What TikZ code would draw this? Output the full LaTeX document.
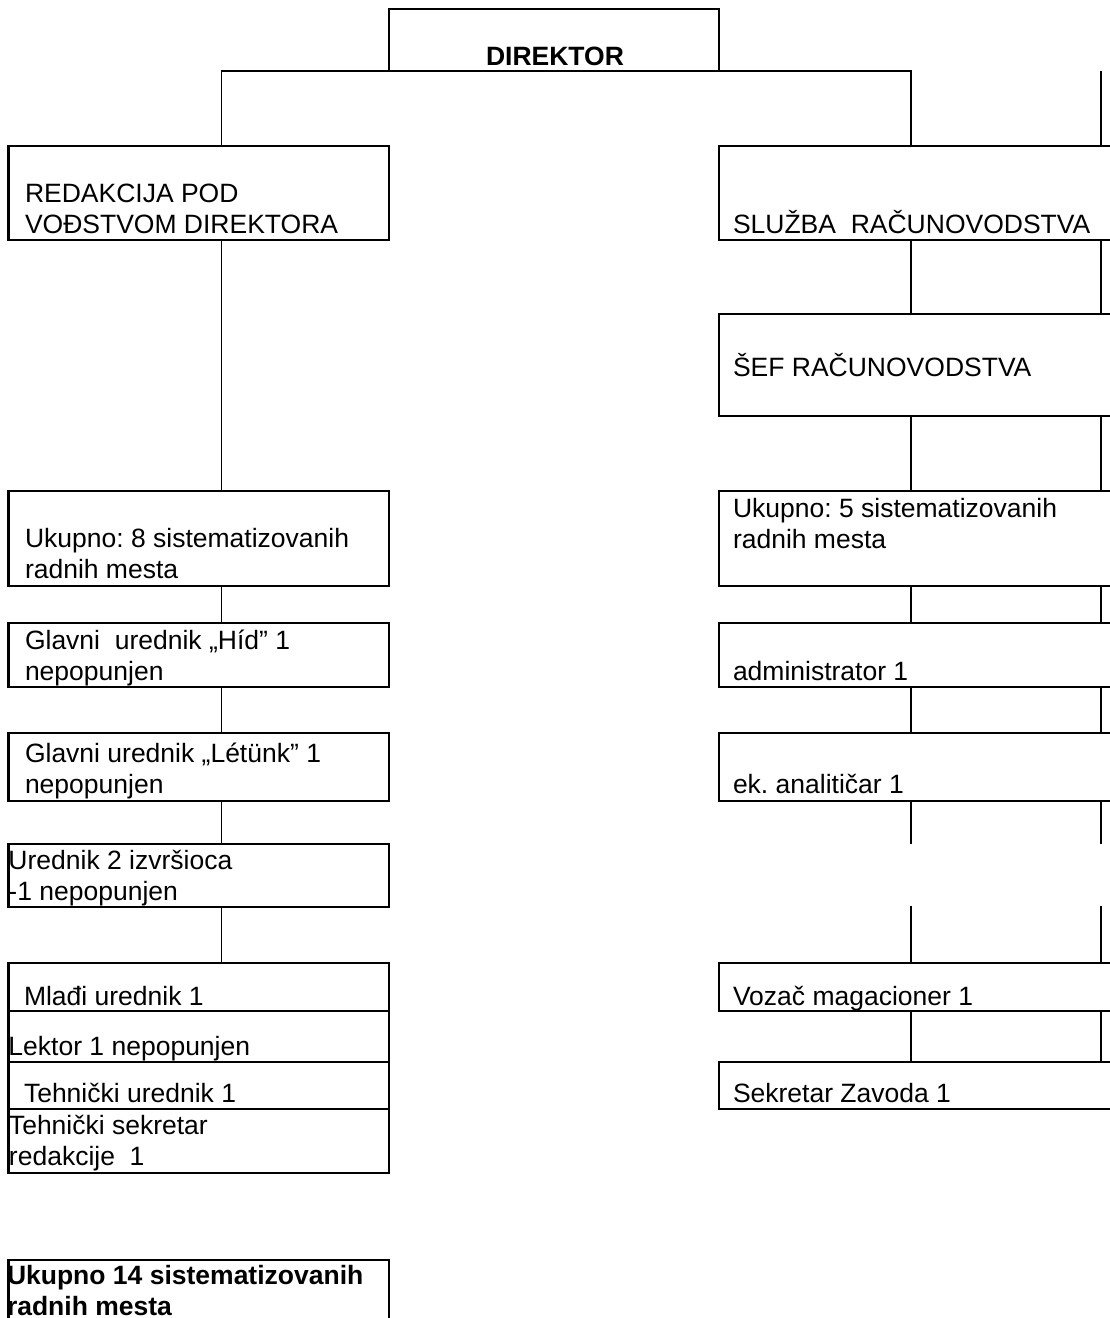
\documentclass[tikz,border=0pt]{standalone}
\usepackage{fontspec}
\setmainfont{Liberation Sans}
\frenchspacing
\tikzset{
  boxst/.style={draw, line width=2.2pt, inner sep=0pt, outer sep=0pt},
  conn/.style={draw, line width=1.5pt},
  txt/.style={inner sep=0pt, outer sep=0pt, anchor=base west, align=left,
    font=\fontsize{26.5}{30.5}\selectfont\frenchspacing},
  btxt/.style={txt, font=\fontsize{26.5}{30.5}\selectfont\bfseries\frenchspacing}
}
\newcommand\bx[5]{\node[boxst, minimum width={(#4-#2)*1pt}, minimum height={(#5-#3)*1pt}] (#1) at ({(#2+#4)/2},{(#3+#5)/2}) {};}
\begin{document}
\begin{tikzpicture}[x=1pt,y=-1pt]
\useasboundingbox (0,0) rectangle (1110,1318);
% connector columns
\coordinate (L) at (221.6,0);
\coordinate (R) at (911,0);
\coordinate (RR) at (1101,0);
\coordinate (gapTop) at (0,844);
\coordinate (gapBot) at (0,906);
% boxes
\bx{dir}{389}{9}{719}{71}
\bx{red}{8.5}{146}{389}{240}
\bx{u8}{8.5}{491}{389}{586}
\bx{hid}{8.5}{623}{389}{687}
\bx{let}{8.5}{733}{389}{801}
\bx{ured}{8.5}{844}{389}{907}
\bx{mladi}{8.5}{963}{389}{1011}
\bx{lektor}{8.5}{1011}{389}{1062}
\bx{teh}{8.5}{1062}{389}{1109}
\bx{tehsek}{8.5}{1109}{389}{1173}
\bx{uk14}{8.5}{1260}{389}{1335}
\bx{sluz}{719}{146}{1125}{240}
\bx{sef}{719}{314}{1125}{416}
\bx{u5}{719}{491}{1125}{586}
\bx{admin}{719}{623}{1125}{687}
\bx{ek}{719}{733}{1125}{801}
\bx{vozac}{719}{963}{1125}{1011}
\bx{sekr}{719}{1062}{1125}{1109}
% texts
\node[btxt, anchor=base] (tdir) at (555,65) {DIREKTOR};
\node[txt] (tred) at (25,233) {REDAKCIJA POD\\VOĐSTVOM DIREKTORA};
\node[txt] (tu8) at (25,578) {Ukupno: 8 sistematizovanih\\radnih mesta};
\node[txt] (thid) at (25,680) {Glavni\ \ urednik „Híd” 1\\nepopunjen};
\node[txt] (tlet) at (25,793) {Glavni urednik „Létünk” 1\\nepopunjen};
\node[txt] (tured) at (8.5,900) {Urednik 2 izvršioca\\-1 nepopunjen};
\node[txt] (tmladi) at (24,1005) {Mlađi urednik 1};
\node[txt] (tlektor) at (8.5,1055) {Lektor 1 nepopunjen};
\node[txt] (tteh) at (24,1102) {Tehnički urednik 1};
\node[txt] (ttehsek) at (9,1165) {Tehnički sekretar\\redakcije\ \ 1};
\node[btxt] (tuk14) at (7,1315) {Ukupno 14 sistematizovanih\\radnih mesta};
\node[txt] (tsluz) at (733,233) {SLUŽBA\ \ RAČUNOVODSTVA};
\node[txt] (tsef) at (733,376) {ŠEF RAČUNOVODSTVA};
\node[txt] (tu5) at (733,548) {Ukupno: 5 sistematizovanih\\radnih mesta};
\node[txt] (tadmin) at (733,680) {administrator 1};
\node[txt] (tek) at (733,793) {ek. analitičar 1};
\node[txt] (tvozac) at (733,1005) {Vozač magacioner 1};
\node[txt] (tsekr) at (733,1102) {Sekretar Zavoda 1};
% connectors: top bus
\draw[conn] (red.north -| L) -- (dir.south -| L) -- (dir.south -| R) -- (sluz.north -| R);
\draw[conn] (dir.south -| RR) -- (sluz.north -| RR);
% left column
\draw[conn] (red.south -| L) -- (u8.north -| L);
\draw[conn] (u8.south -| L) -- (hid.north -| L);
\draw[conn] (hid.south -| L) -- (let.north -| L);
\draw[conn] (let.south -| L) -- (ured.north -| L);
\draw[conn] (ured.south -| L) -- (mladi.north -| L);
% right column
\foreach \c in {R,RR}{
  \draw[conn] (sluz.south -| \c) -- (sef.north -| \c);
  \draw[conn] (sef.south -| \c) -- (u5.north -| \c);
  \draw[conn] (u5.south -| \c) -- (admin.north -| \c);
  \draw[conn] (admin.south -| \c) -- (ek.north -| \c);
  \draw[conn] (ek.south -| \c) -- (gapTop -| \c);
  \draw[conn] (gapBot -| \c) -- (vozac.north -| \c);
  \draw[conn] (vozac.south -| \c) -- (sekr.north -| \c);
}
\end{tikzpicture}
\end{document}
